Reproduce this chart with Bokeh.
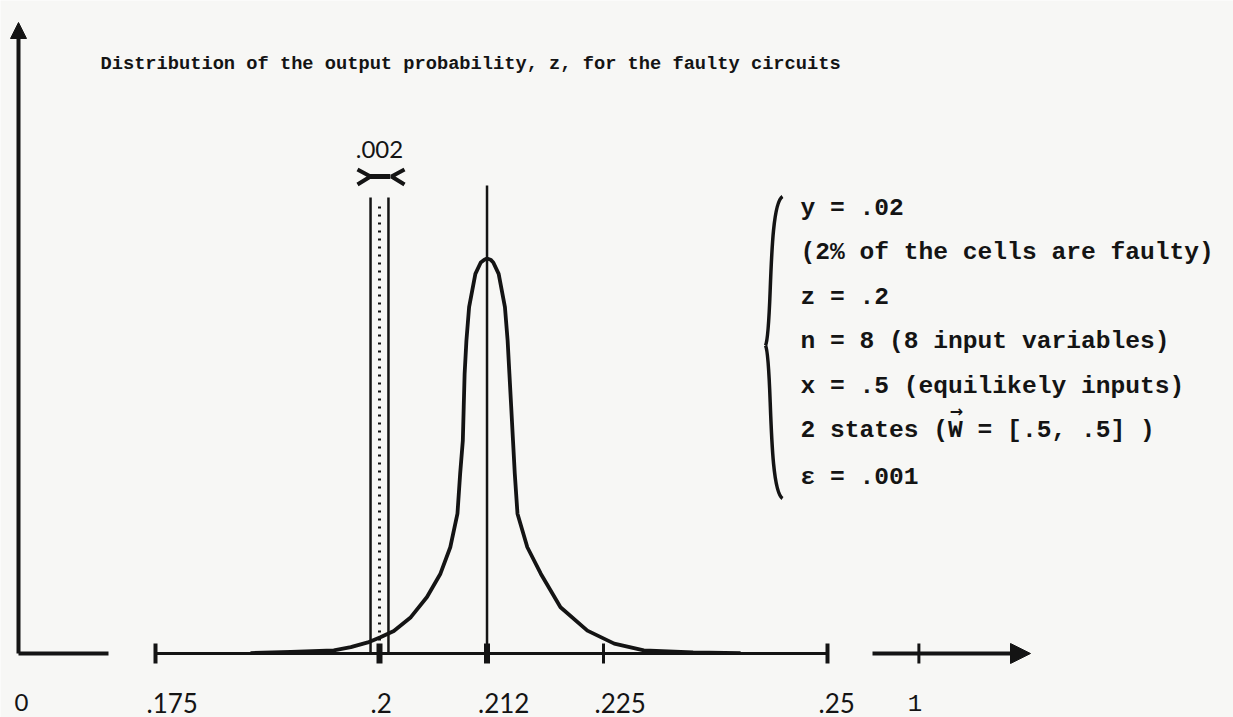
from bokeh.plotting import figure
from bokeh.models import Arrow, NormalHead, Range1d
from bokeh.core.properties import value
from bokeh.embed import file_html
from bokeh.resources import INLINE

# ---------------- data ----------------
TITLE = "Distribution of the output probability, z, for the faulty circuits"

# ticks on the (broken) z axis
AXIS_TICKS = [0.175, 0.2, 0.212, 0.225, 0.25]
AXIS_LABELS = [".175", ".2", ".212", ".225", ".25"]
# the axis is broken: "0" and "1" sit on short separate pieces
BREAK_LABELS = ["0", "1"]
BREAK_POS = [0.1597, 0.2602]

# distribution of z (relative density, peak = 1)
curve_z = [0.1856, 0.1901, 0.1949, 0.1968, 0.1987, 0.2001, 0.2016, 0.2035,
           0.2053, 0.2068, 0.2079, 0.2087, 0.2090, 0.2093, 0.2094, 0.2095,
           0.2097, 0.2100, 0.2107, 0.2113, 0.2117, 0.2120, 0.2124, 0.2127,
           0.2133, 0.2140, 0.2143, 0.2145, 0.2147, 0.2149, 0.2151, 0.2154,
           0.2165, 0.2180, 0.2202, 0.2232, 0.2262, 0.2295, 0.2350, 0.2403]
curve_density = [0.001, 0.004, 0.008, 0.016, 0.028, 0.041, 0.057, 0.092,
                 0.143, 0.202, 0.269, 0.354, 0.455, 0.539, 0.624, 0.708,
                 0.792, 0.877, 0.961, 0.990, 0.997, 1.000, 0.997, 0.990,
                 0.961, 0.877, 0.792, 0.708, 0.624, 0.539, 0.455, 0.354,
                 0.269, 0.202, 0.117, 0.058, 0.025, 0.008, 0.003, 0.001]

Z_TRUE = 0.2          # true output probability
Z_BAND = 0.002        # width of the band around z
Z_PEAK = 0.212        # peak of the distribution

PARAM_LINES = [
    "y = .02",
    "(2% of the cells are faulty)",
    "z = .2",
    "n = 8 (8 input variables)",
    "x = .5 (equilikely inputs)",
    "2 states (W = [.5, .5] )",
    "\u03b5 = .001",
]

# ---------------- layout helpers (page pixels -> data) ----------------
PX_PER_Z = 8960.0
PX_PER_D = 395.0
def zx(px):
    return 0.175 + (px - 155.0) / PX_PER_Z
def dy(py):
    return (653.0 - py) / PX_PER_D

INK = "#141414"
PAPER = "#f7f7f5"
MONO = value("Liberation Mono")
SANS = value("Lato")

W, H = 1233, 717
p = figure(width=W, height=H, output_backend="svg", toolbar_location=None,
           x_range=Range1d(zx(0), zx(W)), y_range=Range1d(dy(H), dy(0)),
           min_border=0, x_axis_location=None, y_axis_location=None)
p.grid.visible = False
p.outline_line_color = None
p.background_fill_color = PAPER
p.border_fill_color = PAPER

# ---- axes (broken) ----
x_axis = zx(18)
p.add_layout(Arrow(end=NormalHead(size=16, fill_color=INK, line_color=INK),
                   x_start=x_axis, y_start=0, x_end=x_axis, y_end=dy(22),
                   line_width=4, line_color=INK))
p.line([x_axis, zx(108)], [0, 0], line_width=4, line_color=INK)
p.line([AXIS_TICKS[0], AXIS_TICKS[-1]], [0, 0], line_width=3, line_color=INK)
p.add_layout(Arrow(end=NormalHead(size=20, fill_color=INK, line_color=INK),
                   x_start=zx(872), y_start=0, x_end=zx(1030), y_end=0,
                   line_width=4, line_color=INK))

tick_half = 10 / PX_PER_D
tick_w = [4, 6, 6, 3, 4]
p.segment(x0=AXIS_TICKS, y0=[-tick_half] * len(AXIS_TICKS),
          x1=AXIS_TICKS, y1=[tick_half] * len(AXIS_TICKS),
          line_width=tick_w, line_color=INK)
p.segment(x0=[BREAK_POS[1]], y0=[-tick_half], x1=[BREAK_POS[1]], y1=[tick_half],
          line_width=3, line_color=INK)

label_y = dy(702)
p.text(x=AXIS_TICKS, y=[label_y] * len(AXIS_TICKS), text=AXIS_LABELS,
       x_offset=-9, text_align="left", text_baseline="middle",
       text_font=SANS, text_font_size="26px", text_color=INK)
p.text(x=BREAK_POS, y=[label_y] * 2, text=BREAK_LABELS, x_offset=[3, -4],
       text_align="center", text_baseline="middle",
       text_font=["Lato", "Liberation Mono"], text_font_size="24px", text_color=INK)

# ---- band around the true z ----
band_top = dy(197)
p.segment(x0=[Z_TRUE - Z_BAND / 2, Z_TRUE + Z_BAND / 2], y0=[0, 0],
          x1=[Z_TRUE - Z_BAND / 2, Z_TRUE + Z_BAND / 2], y1=[band_top, band_top],
          line_width=2.5, line_color=INK)
p.line([Z_TRUE, Z_TRUE], [dy(640), dy(200)], line_width=3, line_color=INK,
       line_dash="2 6")
# "><" width marker
by = dy(176)
p.line([Z_TRUE - Z_BAND * 0.6, Z_TRUE + Z_BAND * 0.6], [by, by], line_width=5, line_color=INK)
p.multi_line(xs=[[zx(357), zx(370), zx(357)], [zx(404), zx(391), zx(404)]],
             ys=[[dy(169), by, dy(184)], [dy(169), by, dy(184)]],
             line_width=4, line_color=INK)
p.text(x=[Z_TRUE], y=[dy(149)], text=[".002"], text_align="center",
       text_baseline="middle", text_font=SANS, text_font_size="24px", text_color=INK)

# ---- peak line and curve ----
p.line([Z_PEAK, Z_PEAK], [0, dy(185)], line_width=2.5, line_color=INK)
p.line(curve_z, curve_density, line_width=3.8, line_color=INK, line_join="round")

# ---- title ----
p.text(x=[zx(100)], y=[dy(63)], text=[TITLE], text_align="left",
       text_baseline="middle", text_font=MONO, text_font_size="18.7px",
       text_font_style="bold", text_color=INK)

# ---- parameters block with brace ----
line_py = [208, 252, 297, 341, 386, 430, 477]
p.text(x=[zx(800)] * len(PARAM_LINES), y=[dy(v) for v in line_py], text=PARAM_LINES,
       text_align="left", text_baseline="middle", text_font=MONO,
       text_font_size="24.6px", text_font_style="bold", text_color=INK)
# vector arrow over W
p.text(x=[zx(956)], y=[dy(411)], text=["\u2192"], text_align="center",
       text_baseline="middle", text_font=value("DejaVu Sans"),
       text_font_size="16px", text_font_style="bold", text_color=INK)
# brace
p.bezier(x0=[zx(782), zx(765)], y0=[dy(196), dy(345)],
         x1=[zx(765), zx(782)], y1=[dy(345), dy(498)],
         cx0=[zx(767), zx(772)], cy0=[dy(205), dy(358)],
         cx1=[zx(772), zx(767)], cy1=[dy(332), dy(488)],
         line_width=3.5, line_color=INK)

open("out.html", "w").write(file_html(p, INLINE))
